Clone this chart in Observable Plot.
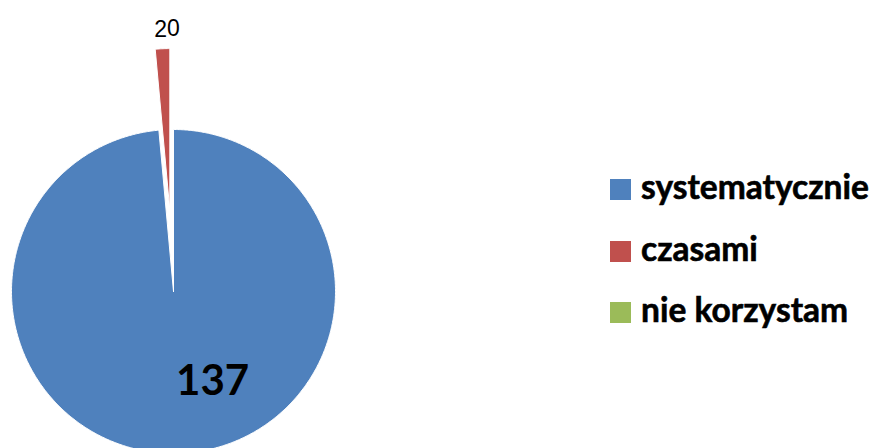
<!DOCTYPE html>
<html>
<head>
<meta charset="utf-8">
<script src="https://cdn.jsdelivr.net/npm/d3@7"></script>
<script src="https://cdn.jsdelivr.net/npm/@observablehq/plot@0.6"></script>
<style>
  body { margin: 0; background: #fff; }
  #wrap { position: relative; width: 880px; height: 448px; overflow: hidden; }
  #chart svg { display: block; }
  #legend { position: absolute; left: 610px; top: 179px; font-family: Lato, "Open Sans", sans-serif; font-weight: 700; color: #000; }
  .row { display: flex; align-items: center; height: 21px; margin-bottom: 40.5px; white-space: nowrap; }
  .sw { width: 21px; height: 21px; flex: none; margin-right: 10px; }
  .lbl { font-size: 33.5px; line-height: 21px; position: relative; top: -3px; -webkit-text-stroke: 0.6px #000; }
</style>
</head>
<body>
<div id="wrap">
  <div id="chart"></div>
  <div id="legend"></div>
</div>
<script>
// ---- data ----
const categories = ["systematycznie", "czasami", "nie korzystam"];
const values = [137, 2, 0];
const colors = ["#4F81BD", "#C0504D", "#9BBB59"];
const valueLabels = ["137", "2", "0"];

// ---- layout ----
const W = 880, H = 448;
const cx = 173, cy = 291, R = 162;            // pie centre / radius in px
const explodedCats = new Set(["czasami", "nie korzystam"]);
const explodeAmt = 0.5;                       // fraction of radius

const rows = categories.map((c, i) => ({category: c, value: values[i], label: valueLabels[i]}));
const arcs = d3.pie().sort(null).value(d => d.value)(rows);

const pts = [];
const labelPts = [];
for (const a of arcs) {
  const c = a.data.category;
  const mid = (a.startAngle + a.endAngle) / 2;
  const e = explodedCats.has(c) ? explodeAmt : 0;
  const ox = e * Math.sin(mid), oy = e * Math.cos(mid);
  const span = a.endAngle - a.startAngle;
  if (span > 0) {
    pts.push({category: c, x: ox, y: oy});
    const n = Math.max(2, Math.ceil(span / (Math.PI / 360)));
    for (let k = 0; k <= n; k++) {
      const t = a.startAngle + span * k / n;
      pts.push({category: c, x: ox + Math.sin(t), y: oy + Math.cos(t)});
    }
    pts.push({category: c, x: ox, y: oy});
  }
  const big = a.data.value / d3.sum(values) > 0.5;
  const lr = big ? 0.556 : 1.62;
  labelPts.push({category: c, big, zero: a.data.value === 0, label: a.data.label, x: lr * Math.sin(mid), y: lr * Math.cos(mid)});
}

const smallFont = "'Liberation Sans Narrow', 'Liberation Sans', sans-serif";
const chart = Plot.plot({
  width: W,
  height: H,
  margin: 0,
  x: {domain: [-cx / R, (W - cx) / R], axis: null},
  y: {domain: [(cy - H) / R, cy / R], axis: null},
  color: {domain: categories, range: colors},
  marks: [
    Plot.line(pts, {x: "x", y: "y", z: "category", fill: "category", stroke: "white", strokeWidth: 1, curve: "linear"}),
    Plot.text(labelPts.filter(d => d.big), {x: "x", y: "y", text: "label", dx: 35, fontSize: 42, fontWeight: "bold", fontFamily: "Lato, sans-serif", fill: "black"}),
    Plot.text(labelPts.filter(d => !d.big && !d.zero), {x: "x", y: "y", text: "label", dx: -1, fontSize: 23, fontFamily: smallFont, fill: "black"}),
    Plot.text(labelPts.filter(d => d.zero), {x: "x", y: "y", text: "label", dx: 0, fontSize: 23, fontFamily: smallFont, fill: "black"})
  ]
});
document.getElementById("chart").appendChild(chart);

// ---- legend ----
const legend = document.getElementById("legend");
categories.forEach((c, i) => {
  const row = document.createElement("div");
  row.className = "row";
  const sw = document.createElement("div");
  sw.className = "sw";
  sw.style.background = colors[i];
  const t = document.createElement("span");
  t.className = "lbl";
  t.textContent = c;
  row.appendChild(sw);
  row.appendChild(t);
  legend.appendChild(row);
});
</script>
</body>
</html>
